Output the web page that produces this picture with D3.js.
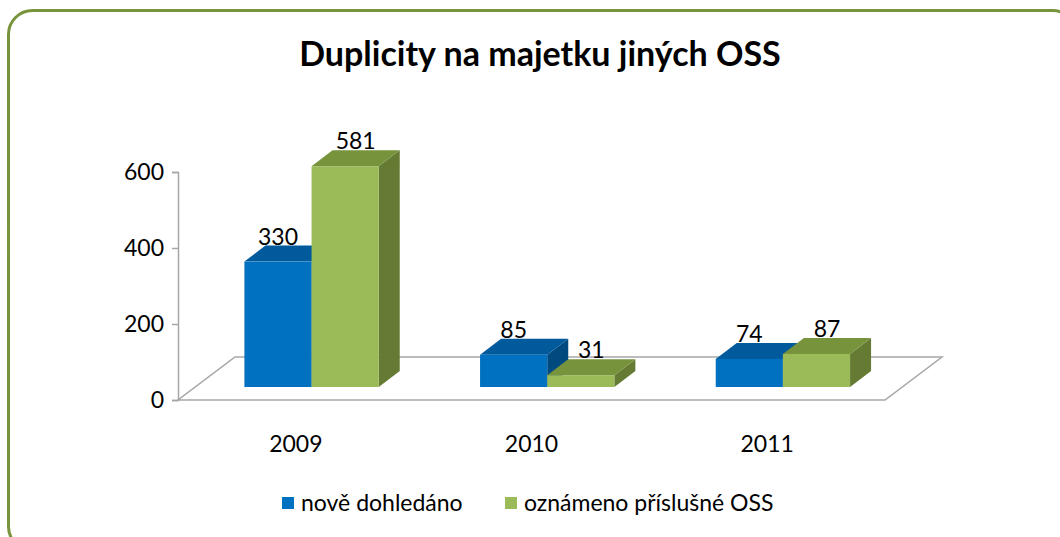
<!DOCTYPE html>
<html><head><meta charset="utf-8">
<script src="https://cdn.jsdelivr.net/npm/d3@7"></script>
<style>body{margin:0;background:#fff}svg{display:block}text{font-family:Lato,"Open Sans",sans-serif}</style>
</head><body><svg id="c" width="1060" height="537"></svg>
<script>
const title = "Duplicity na majetku jiných OSS";
const categories = ["2009", "2010", "2011"];
const seriesNames = ["nově dohledáno", "oznámeno příslušné OSS"];
const seriesNew = [330, 85, 74];
const seriesReported = [581, 31, 87];
const yTicks = [0, 200, 400, 600];

const frontCol = ["#0070C0", "#9BBB59"];
const topCol = ["#005A9C", "#77933C"];
const sideCol = ["#004A80", "#657A33"];

const svg = d3.select("#c");
svg.append("rect").attr("x", 8.5).attr("y", 10.5).attr("width", 1068).attr("height", 540)
  .attr("rx", 24).attr("fill", "#fff").attr("stroke", "#77933C").attr("stroke-width", 3);

svg.append("text").attr("x", 540).attr("y", 66).attr("text-anchor", "middle")
  .attr("font-size", 34).attr("font-weight", "bold").attr("fill", "#000").text(title);

const x0 = 178, x1 = 885, y0 = 400;
const floorDX = 57, floorDY = 43;
const y = d3.scaleLinear().domain([0, 600]).range([y0, 172]);
const xb = d3.scaleBand().domain(categories).range([x0, x1]).paddingInner(0.43).paddingOuter(0.215);
const xs = d3.scaleBand().domain([0, 1]).range([0, xb.bandwidth()]);

const floorPts = [[x0, y0], [x1, y0], [x1 + floorDX, y0 - floorDY], [x0 + floorDX, y0 - floorDY]];
svg.append("path").attr("d", "M" + floorPts.join("L") + "Z").attr("fill", "none")
  .attr("stroke", "#A6A6A6").attr("stroke-width", 1.5);

const axis = d3.axisLeft(y).tickValues(yTicks).tickSize(6).tickPadding(8).tickFormat(d3.format("d"));
const ag = svg.append("g").attr("transform", `translate(${x0},0)`).call(axis);
ag.select(".domain").attr("stroke", "#A6A6A6").attr("stroke-width", 1.5);
ag.selectAll(".tick line").attr("stroke", "#A6A6A6").attr("stroke-width", 1.5);
ag.selectAll("text").attr("font-size", 23).attr("fill", "#000").style("font-family", "Lato");

svg.append("g").selectAll("text").data(categories).join("text")
  .attr("x", d => xb(d) + xb.bandwidth() / 2).attr("y", 452).attr("text-anchor", "middle")
  .attr("font-size", 23).attr("fill", "#000").text(d => d);

const depthFront = 13, dx = 21, dy = 16;
const shiftX = depthFront * floorDX / floorDY - 1.5;
const data = [];
categories.forEach((c, i) => {
  [seriesNew, seriesReported].forEach((s, k) => data.push({ c, k, v: s[i] }));
});
const g = svg.append("g");
data.forEach(d => {
  const xl = xb(d.c) + xs(d.k) + shiftX, w = xs.bandwidth();
  const yb = y(0) - depthFront, yt = y(d.v) - depthFront;
  g.append("path").attr("d", `M${xl + w},${yb}L${xl + w + dx},${yb - dy}L${xl + w + dx},${yt - dy}L${xl + w},${yt}Z`)
    .attr("fill", sideCol[d.k]);
  g.append("path").attr("d", `M${xl},${yt}L${xl + dx},${yt - dy}L${xl + w + dx},${yt - dy}L${xl + w},${yt}Z`)
    .attr("fill", topCol[d.k]);
  g.append("rect").attr("x", xl).attr("y", yt).attr("width", w).attr("height", yb - yt).attr("fill", frontCol[d.k]);
});
data.forEach(d => {
  const xl = xb(d.c) + xs(d.k) + shiftX, w = xs.bandwidth();
  const yt = y(d.v) - depthFront;
  svg.append("text").attr("x", xl + w / 2 + (d.k ? dx * 0.5 : 0)).attr("y", yt - dy - 1)
    .attr("text-anchor", "middle").attr("font-size", 23).attr("fill", "#000").text(d.v);
});

const leg = svg.append("g");
const legX = [282, 505];
seriesNames.forEach((n, k) => {
  leg.append("rect").attr("x", legX[k]).attr("y", 497).attr("width", 12).attr("height", 12).attr("fill", frontCol[k]);
  leg.append("text").attr("x", legX[k] + 19).attr("y", 511).attr("font-size", 23).attr("fill", "#000").text(n);
});
</script></body></html>
